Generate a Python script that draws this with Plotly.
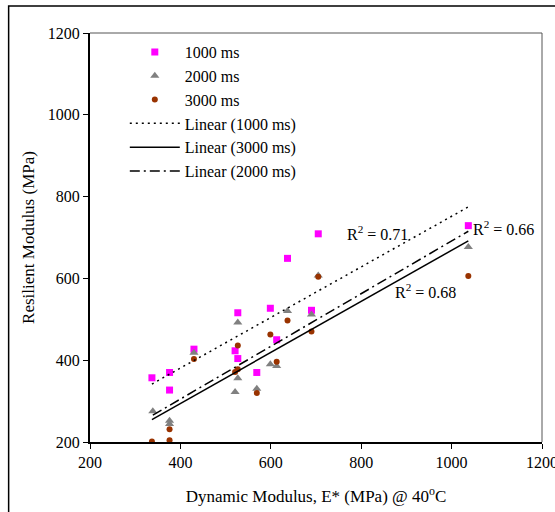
import numpy as np
import plotly.graph_objects as go

# Data
x_1000 = [337, 376, 376, 430, 521, 527, 527, 569, 599, 613, 637, 690, 705, 1037]
y_1000 = [357, 370, 327, 427, 423, 516, 404, 370, 527, 450, 649, 522, 709, 729]

x_2000 = [339, 376, 376, 430, 521, 527, 527, 569, 599, 613, 637, 690, 705, 1037]
y_2000 = [275, 252, 244, 418, 322, 492, 356, 330, 390, 386, 520, 512, 607, 677]

x_3000 = [337, 376, 376, 430, 521, 527, 527, 569, 599, 613, 637, 690, 705, 1037]
y_3000 = [201, 204, 231, 403, 371, 436, 378, 320, 463, 396, 497, 470, 604, 606]

r2_labels = ["R<sup>2</sup> = 0.71", "R<sup>2</sup> = 0.68", "R<sup>2</sup> = 0.66"]
r2_x = [835, 943, 1115]
r2_y = [711, 569, 724]

axis_ticks = [200, 400, 600, 800, 1000, 1200]

FONT = "Liberation Serif, Times New Roman, serif"


def fit_line(xs, ys):
    m, b = np.polyfit(xs, ys, 1)
    xx = np.array([min(xs), max(xs)])
    return xx, m * xx + b


fig = go.Figure()

fig.add_trace(go.Scatter(x=x_1000, y=y_1000, mode="markers", name="1000 ms",
                         marker=dict(symbol="square", size=7, color="#FF00FF")))
fig.add_trace(go.Scatter(x=x_2000, y=y_2000, mode="markers", name="2000 ms",
                         marker=dict(symbol="triangle-up", size=8, color="#808080")))
fig.add_trace(go.Scatter(x=x_3000, y=y_3000, mode="markers", name="3000 ms",
                         marker=dict(symbol="circle", size=6, color="#993300")))

lx, ly = fit_line(x_1000, y_1000)
fig.add_trace(go.Scatter(x=lx, y=ly, mode="lines", name="Linear (1000 ms)",
                         line=dict(color="black", width=1.5, dash="2px,4px")))
lx, ly = fit_line(x_3000, y_3000)
fig.add_trace(go.Scatter(x=lx, y=ly, mode="lines", name="Linear (3000 ms)",
                         line=dict(color="black", width=1.5)))
lx, ly = fit_line(x_2000, y_2000)
fig.add_trace(go.Scatter(x=lx, y=ly, mode="lines", name="Linear (2000 ms)",
                         line=dict(color="black", width=1.5, dash="10px,4px,2px,4px")))

for t, ax_, ay_ in zip(r2_labels, r2_x, r2_y):
    fig.add_annotation(x=ax_, y=ay_, text=t, showarrow=False,
                       font=dict(family=FONT, size=16, color="black"))

# outer frame
fig.add_shape(type="rect", xref="paper", yref="paper",
              x0=-0.180, x1=1.2, y0=-0.3, y1=1.066,
              line=dict(color="black", width=1.5), layer="below")
# plot area box (top/right)
fig.add_shape(type="line", xref="paper", yref="paper", x0=0, x1=1, y0=1, y1=1,
              line=dict(color="#555555", width=1))
fig.add_shape(type="line", xref="paper", yref="paper", x0=1, x1=1, y0=0, y1=1,
              line=dict(color="#555555", width=1))

fig.update_layout(
    width=555, height=512,
    margin=dict(l=90, r=13, t=33, b=70, autoexpand=False),
    paper_bgcolor="white", plot_bgcolor="white",
    font=dict(family=FONT, size=16, color="black"),
    showlegend=True,
    legend=dict(x=0.077, y=0.995, xanchor="left", yanchor="top",
                bgcolor="rgba(0,0,0,0)", font=dict(family=FONT, size=16),
                tracegroupgap=0, itemwidth=50),
    xaxis=dict(range=[200, 1200], tickvals=axis_ticks, showgrid=False, zeroline=False,
               showline=True, linecolor="black", linewidth=2, ticks="outside",
               ticklen=5, tickcolor="black", ticklabeloverflow="allow", automargin=False,
               tickfont=dict(family=FONT, size=16),
               title=dict(text="Dynamic Modulus, E* (MPa) @ 40<sup>o</sup>C",
                          font=dict(family=FONT, size=17), standoff=20)),
    yaxis=dict(range=[200, 1200], tickvals=axis_ticks, showgrid=False, zeroline=False,
               showline=True, linecolor="black", linewidth=2, ticks="outside",
               ticklen=5, tickcolor="black", ticklabeloverflow="allow", automargin=False,
               tickfont=dict(family=FONT, size=16),
               title=dict(text="Resilient Modulus (MPa)",
                          font=dict(family=FONT, size=17), standoff=9)),
)

# remove the browser's default 8px body margin so the figure fills the window
fig.write_html("out.html", config={"displayModeBar": False},
               post_script="document.body.style.margin='0';document.body.style.overflow='hidden';")
